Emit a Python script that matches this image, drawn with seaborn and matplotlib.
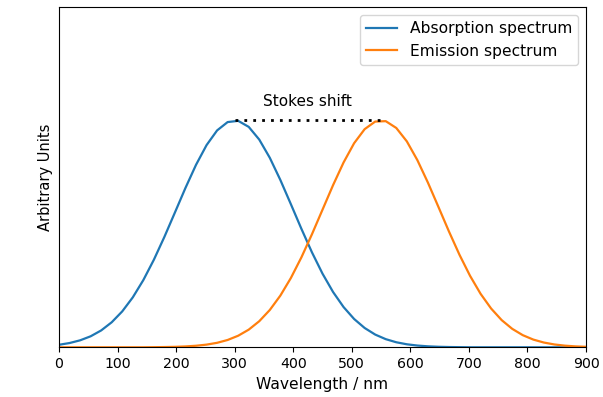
import matplotlib
matplotlib.use("Agg")
import matplotlib.pyplot as plt
import seaborn as sns
import pandas as pd

wavelength = [0, 18, 36, 54, 72, 90, 108, 126, 144, 162, 180, 198, 216, 234, 252,
              270, 288, 306, 324, 342, 360, 378, 396, 414, 432, 450, 468, 486, 504,
              522, 540, 558, 576, 594, 612, 630, 648, 666, 684, 702, 720, 738, 756,
              774, 792, 810, 828, 846, 864, 882, 900]
absorption = [0.0111, 0.0188, 0.0307, 0.0485, 0.0743, 0.1103, 0.1583, 0.2201, 0.2962,
              0.3859, 0.4868, 0.5944, 0.7027, 0.8043, 0.8912, 0.9560, 0.9928, 0.9982,
              0.9716, 0.9156, 0.8353, 0.7377, 0.6308, 0.5221, 0.4185, 0.3247, 0.2439,
              0.1773, 0.1248, 0.0851, 0.0561, 0.0359, 0.0222, 0.0133, 0.0077, 0.0043,
              0.0023, 0.0012, 0.0006, 0.0, 0.0, 0.0, 0.0, 0.0, 0.0, 0.0, 0.0, 0.0,
              0.0, 0.0, 0.0]
emission = [0.0, 0.0, 0.0, 0.0, 0.0, 0.0, 0.0, 0.0, 0.0, 0.0005, 0.0011, 0.0020,
            0.0038, 0.0068, 0.0118, 0.0198, 0.0323, 0.0510, 0.0778, 0.1150, 0.1645,
            0.2278, 0.3055, 0.3966, 0.4984, 0.6065, 0.7145, 0.8148, 0.8996, 0.9616,
            0.9950, 0.9968, 0.9668, 0.9078, 0.8251, 0.7261, 0.6187, 0.5103, 0.4075,
            0.3150, 0.2357, 0.1708, 0.1198, 0.0814, 0.0535, 0.0340, 0.0210, 0.0125,
            0.0072, 0.0040, 0.0022]
series_labels = ["Absorption spectrum", "Emission spectrum"]
shift_x = [300, 550]
shift_y = [1.0, 1.0]
shift_label = "Stokes shift"

df = pd.DataFrame({"wl": wavelength, "abs": absorption, "em": emission})

fig = plt.figure(figsize=(6.03, 3.97), dpi=100)
ax = fig.add_axes([59 / 603, 1 - 347.3 / 397, (586 - 59) / 603, (347.3 - 7) / 397])

sns.lineplot(data=df, x="wl", y="abs", ax=ax, color="#1f77b4", lw=1.6,
             label=series_labels[0])
sns.lineplot(data=df, x="wl", y="em", ax=ax, color="#ff7f0e", lw=1.6,
             label=series_labels[1])
ax.plot(shift_x, shift_y, color="black", lw=2, linestyle=(0, (1, 2.2)))
ax.text(sum(shift_x) / 2, 1.05, shift_label, ha="center", va="bottom", fontsize=11)

ax.set_xlim(0, 900)
ax.set_ylim(0, 1.5)
ax.set_xticks(range(0, 901, 100))
ax.set_yticks([])
ax.set_xlabel("Wavelength / nm", fontsize=11.2)
ax.set_ylabel("Arbitrary Units", fontsize=10.5)
ax.tick_params(axis="x", labelsize=10.2)
ax.legend(loc="upper right", fontsize=11.2)

fig.savefig("out.png", dpi=100)
